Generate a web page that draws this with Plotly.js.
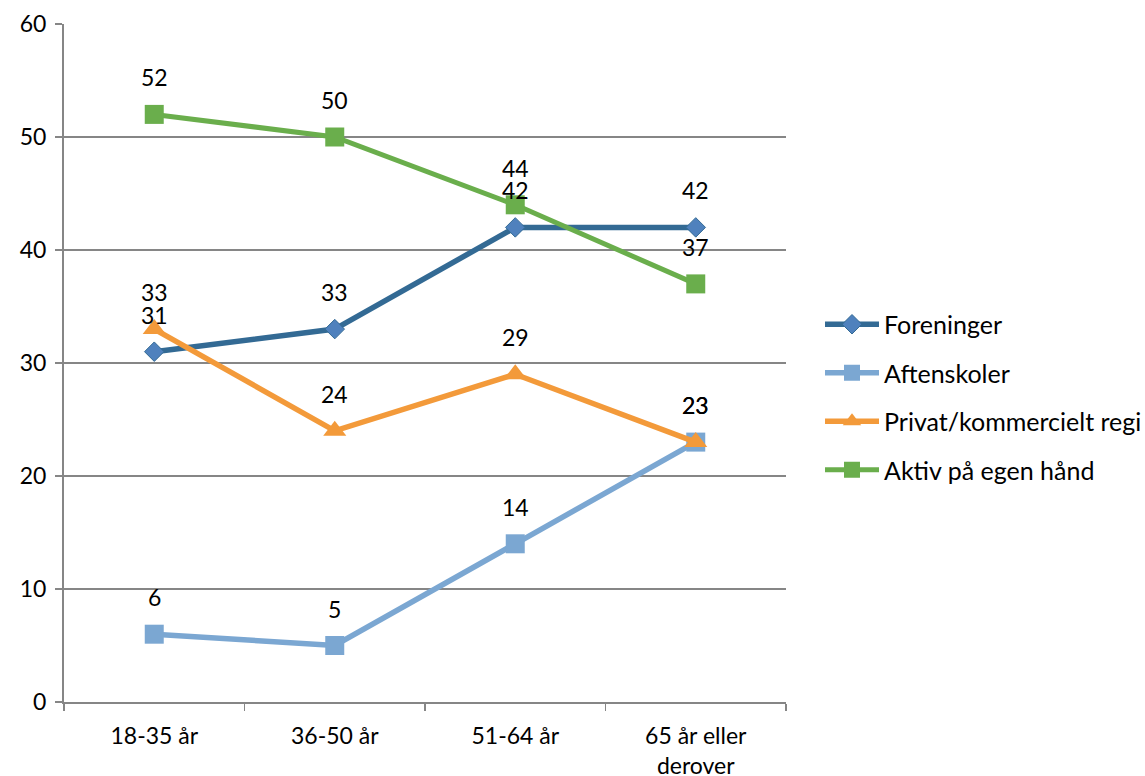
<!DOCTYPE html>
<html><head><meta charset="utf-8">
<script src="https://cdn.plot.ly/plotly-3.0.1.min.js"></script>
<style>body{margin:0;background:#fff}#chart{width:1145px;height:776px}</style>
</head><body><div id="chart"></div>
<script>
const categories = ["18-35 år", "36-50 år", "51-64 år", "65 år eller<br>derover"];
const foreninger = [31, 33, 42, 42];
const aftenskoler = [6, 5, 14, 23];
const privat = [33, 24, 29, 23];
const aktiv = [52, 50, 44, 37];
const seriesNames = ["Foreninger", "Aftenskoler", "Privat/kommercielt regi", "Aktiv på egen hånd"];
const yTicks = [0, 10, 20, 30, 40, 50, 60];

const styles = [
  {line: "#336A94", marker: "#4F81BD", symbol: "diamond", size: 15, width: 5.5},
  {line: "#7BA7D2", marker: "#7BA7D2", symbol: "square", size: 19, width: 5.5},
  {line: "#F39A3A", marker: "#F39A3A", symbol: "triangle-up", size: 20, width: 5.5},
  {line: "#6AAE4C", marker: "#6AAE4C", symbol: "square", size: 19, width: 5}
];
const allData = [foreninger, aftenskoler, privat, aktiv];
const font = "Lato, 'Open Sans', sans-serif";
const fs = 23;

const traces = allData.map((vals, i) => ({
  x: categories, y: vals, name: seriesNames[i], type: "scatter", mode: "lines+markers",
  legendgroup: "g" + i,
  line: {color: styles[i].line, width: styles[i].width},
  marker: {color: styles[i].marker, symbol: styles[i].symbol, size: styles[i].size,
           line: {color: styles[i].line, width: i === 0 ? 1 : 0}}
}));

const annotations = [];
allData.forEach(vals => vals.forEach((v, j) => {
  annotations.push({x: categories[j], y: v, xref: "x", yref: "y", text: String(v),
    showarrow: false, yshift: 37, font: {family: font, size: fs, color: "#000"}});
}));

const layout = {
  width: 1145, height: 776,
  margin: {l: 64, r: 359, t: 24, b: 74, autoexpand: false},
  paper_bgcolor: "#fff", plot_bgcolor: "#fff",
  font: {family: font, size: fs, color: "#000"},
  showlegend: true,
  legend: {xref: "container", yref: "container", x: 820 / 1145, y: 1 - 397 / 776,
    xanchor: "left", yanchor: "middle", tracegroupgap: 13,
    itemwidth: 54,
    font: {family: font, size: 25, color: "#000"}, bgcolor: "rgba(0,0,0,0)"},
  xaxis: {type: "category", range: [-0.5, 3.5], showgrid: false, showline: true,
    linecolor: "#868686", linewidth: 2, ticks: "outside", tickson: "boundaries",
    ticklen: 7, tickcolor: "#868686", tickwidth: 1.5, zeroline: false, ticklabelstandoff: 12,
    tickfont: {family: font, size: fs, color: "#000"}, fixedrange: true},
  yaxis: {range: [0, 60], tickvals: yTicks, showgrid: true, gridcolor: "#868686", gridwidth: 1.5,
    showline: true, linecolor: "#868686", linewidth: 2, ticks: "outside", ticklen: 7,
    tickcolor: "#868686", tickwidth: 1.5, zeroline: false, ticklabelstandoff: 4,
    tickfont: {family: font, size: fs, color: "#000"}, fixedrange: true},
  annotations: annotations
};
Plotly.newPlot("chart", traces, layout, {displayModeBar: false, staticPlot: true});
</script></body></html>
